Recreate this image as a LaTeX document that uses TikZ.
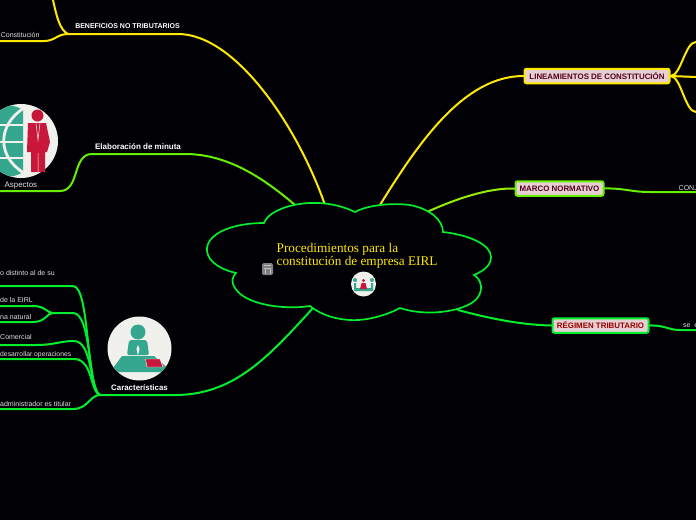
\documentclass[tikz,border=0pt]{standalone}
\usepackage{xcolor}
\usepackage{fontspec}
\setmainfont{Liberation Sans}
\newfontfamily\titlefont{Liberation Serif}
\usetikzlibrary{positioning, calc, backgrounds}

\definecolor{branchyellow}{HTML}{FFE900}
\definecolor{branchlime}{HTML}{66F000}
\definecolor{branchgreen}{HTML}{00EE2C}
\definecolor{boxfill}{HTML}{E6D0D3}
\definecolor{iconteal}{HTML}{35A78F}
\definecolor{iconred}{HTML}{C8173A}
\definecolor{iconpaper}{HTML}{F0F0EC}

\begin{document}
\begin{tikzpicture}[
    x=1pt, y=-1pt,
    link/.style={line width=2pt, line cap=round},
    topic/.style={draw, line width=2pt, rounded corners=2pt, fill=boxfill, inner sep=0pt,
                  minimum height=14.5pt, align=center, font=\bfseries\fontsize{7.9}{8}\selectfont, text=black!45!purple!80!black},
    leaf/.style={font=\fontsize{7}{8}\selectfont, text=white!88!black, inner sep=0pt, anchor=base west},
    branch/.style={font=\bfseries\fontsize{7}{8}\selectfont, text=white, inner sep=0pt},
]
\fill[black!98!blue] (0,0) rectangle (696,520);
\useasboundingbox (0,0) rectangle (696,520);

% topics
\node[topic, draw=branchyellow, minimum width=145pt] (lineamientos) at (597,76) {LINEAMIENTOS DE CONSTITUCIÓN};
\node[topic, draw=branchlime, minimum width=88pt] (marco) at (559.5,188.5) {MARCO NORMATIVO};
\node[topic, draw=branchgreen, minimum width=96pt, text=red!60!black] (regimen) at (600.5,325.5) {RÉGIMEN TRIBUTARIO};

% free ends
\coordinate (hub1) at (68,34);
\coordinate (hub2) at (100,395);
\coordinate (hub3) at (54,313);
\coordinate (cloudA) at (325,205);
\coordinate (cloudB) at (380,205);
\coordinate (cloudC) at (295,205);
\coordinate (cloudD) at (427,212);
\coordinate (cloudE) at (458,310);
\coordinate (cloudF) at (313,308);

% yellow side
\draw[link, branchyellow] (cloudA) .. controls (297,125) and (235,34) .. (178,34) -- (hub1);
\coordinate (endA) at (53,0);
\coordinate (endB) at (0,41);
\draw[link, branchyellow] (hub1) .. controls (60,30) and (57,18) .. (endA);
\draw[link, branchyellow] (hub1) .. controls (57,34) and (55,41) .. (44,41) -- (endB);
\draw[link, branchyellow] (cloudB) .. controls (420,140) and (465,76) .. (lineamientos.west);
\coordinate (endC) at (696,42);
\coordinate (endD) at (696,77);
\coordinate (endE) at (696,112);
\draw[link, branchyellow] (lineamientos.east) .. controls (681,76) and (685,42) .. (endC);
\draw[link, branchyellow] (lineamientos.east) -- (endD);
\draw[link, branchyellow] (lineamientos.east) .. controls (681,76) and (685,112) .. (endE);

% lime side
\coordinate (endF) at (0,191);
\draw[link, branchlime] (cloudC) .. controls (260,175) and (225,154) .. (185,154) -- (92,154)
    .. controls (72,154) and (80,191) .. (60,191) -- (endF);
\coordinate (endG) at (696,192);
\draw[link, branchlime!70!branchyellow] (cloudD) .. controls (460,197) and (490,188) .. (marco.west);
\draw[link, branchlime] (marco.east) .. controls (625,188) and (630,192) .. (650,192) -- (endG);

% green side
\draw[link, branchgreen] (cloudE) .. controls (495,320) and (525,325) .. (regimen.west);
\coordinate (endH) at (696,330);
\draw[link, branchgreen] (regimen.east) .. controls (665,325) and (668,330) .. (680,330) -- (endH);
\draw[link, branchgreen] (cloudF) .. controls (270,355) and (235,395) .. (175,395) -- (hub2);
\coordinate (endI) at (0,286);
\coordinate (endJ) at (0,306);
\coordinate (endK) at (0,322);
\coordinate (endL) at (0,345);
\coordinate (endM) at (0,359);
\coordinate (endN) at (0,409);
\draw[link, branchgreen] (hub2) .. controls (86,388) and (90,286) .. (73,286) -- (endI);
\draw[link, branchgreen] (hub2) .. controls (88,390) and (92,313) .. (73,313) -- (hub3);
\draw[link, branchgreen] (hub3) .. controls (46,313) and (46,306) .. (33,306) -- (endJ);
\draw[link, branchgreen] (hub3) .. controls (46,313) and (46,322) .. (33,322) -- (endK);
\draw[link, branchgreen] (hub2) .. controls (90,392) and (93,341) .. (74,341) .. controls (60,341) and (55,345) .. (35,345) -- (endL);
\draw[link, branchgreen] (hub2) .. controls (90,392) and (93,359) .. (74,359) -- (endM);
\draw[link, branchgreen] (hub2) .. controls (90,395) and (88,409) .. (73,409) -- (endN);

% cloud
\draw[line width=1.7pt, branchgreen, fill=black!98!blue]
    (264,223) .. controls (270,208) and (300,202) .. (317,203)
    .. controls (330,203) and (345,207) .. (355,212)
    .. controls (370,204) and (395,203) .. (410,205)
    .. controls (430,209) and (443,220) .. (443,232)
    .. controls (470,235) and (491,245) .. (491,257)
    .. controls (491,266) and (483,271) .. (474,275)
    .. controls (482,280) and (483,290) .. (478,297)
    .. controls (470,310) and (430,318) .. (400,308)
    .. controls (385,316) and (365,321) .. (350,320)
    .. controls (333,319) and (320,314) .. (310,306)
    .. controls (285,310) and (245,305) .. (235,288)
    .. controls (231,282) and (232,277) .. (236,273)
    .. controls (215,268) and (206,258) .. (207,248)
    .. controls (209,232) and (235,223) .. (264,223) -- cycle;

% title
\node[font=\titlefont\fontsize{13.25}{13}\selectfont, text=branchyellow, align=left, anchor=north west, inner sep=0pt] (titulo) at (276.5,243)
    {Procedimientos para la\\constitución de empresa EIRL};

% small grey note
\node[fill=black!50, rounded corners=1.5pt, minimum width=11pt, minimum height=12pt, inner sep=0pt] (nota) at (267.5,269) {};
\draw[white!75!black, line width=0.8pt] (264,265.5) -- (271,265.5) (264,268.5) -- (271,268.5) (265,268.5) -- (265,274) (270,268.5) -- (270,274);

% title icon
\node[circle, fill=iconpaper, minimum size=25pt, inner sep=0pt] (iconoA) at (363.5,284) {};
\fill[iconteal] (355,280) circle (2pt) (372,280) circle (2pt);
\fill[iconteal] (354,283) rectangle (356,289) (371,283) rectangle (373,289) (354,288) rectangle (373,291);
\fill[iconred] (363.5,280.5) circle (1.7pt);
\fill[iconred] (360,289) -- (361.5,283) -- (365.5,283) -- (367,289) -- cycle;

% Caracteristicas icon
\node[circle, fill=iconpaper, minimum size=64pt, inner sep=0pt] (iconoB) at (139.5,348.5) {};
\begin{scope}
\clip (139.5,348.5) circle (32pt);
\fill[iconteal] (138,332) circle (7.5pt);
\fill[iconteal, rounded corners=2pt] (127,355) -- (129,340) -- (147,340) -- (149,355) -- cycle;
\fill[white] (138,345) -- (139.5,349) -- (138,355) -- (136.5,349) -- cycle;
\fill[iconteal] (122,356) -- (154,356) -- (172,372) -- (110,372) -- cycle;
\fill[iconred] (145.5,359) -- (160,359) -- (163,367) -- (147,367) -- cycle;
\draw[white, line width=0.4pt] (145.5,359) -- (160,359) -- (163,367) -- (147,367) -- cycle;
\end{scope}
\node[branch, font=\bfseries\fontsize{7.9}{8}\selectfont] (caract) at (139.5,387.5) {Características};

% Aspectos icon
\node[circle, fill=iconpaper, minimum size=74pt, inner sep=0pt] (iconoC) at (21,141) {};
\begin{scope}
\clip (21,141) circle (37pt);
\clip (-20,100) rectangle (23,181);
\fill[iconteal] (5,141) circle (36pt);
\draw[iconpaper, line width=2.8pt] (-25,125) -- (25,125) (-25,142) -- (25,142) (-25,158) -- (25,158);
\draw[iconpaper, line width=2.8pt] (24,108) .. controls (-3,125) and (-3,157) .. (24,173);
\end{scope}
\fill[iconred] (37.5,115.5) circle (6pt);
\fill[iconred] (28,123) -- (46,123) -- (50,142) -- (47,152) -- (45,152) -- (45,172) -- (31,172) -- (31,152) -- (27,152) -- cycle;
\draw[iconpaper, line width=0.5pt] (38,153) -- (38,173) (36,123) -- (38,140) -- (40,123);
\node[leaf, font=\fontsize{7.9}{8}\selectfont] (aspectos) at (4.5,187) {Aspectos};

% branch labels
\node[branch] (beneficios) at (127.5,26.5) {BENEFICIOS NO TRIBUTARIOS};
\node[branch, font=\bfseries\fontsize{8}{9}\selectfont] (elaboracion) at (138,146.5) {Elaboración de minuta};

% leaves
\node[leaf] (constitucion) at (0.7,37) {Constitución};
\node[leaf] (distinto) at (0,275) {o distinto al de su};
\node[leaf] (eirl) at (0,302) {de la EIRL};
\node[leaf] (natural) at (0,319) {na natural};
\node[leaf] (comercial) at (0,339) {Comercial};
\node[leaf, font=\fontsize{6.8}{8}\selectfont] (operaciones) at (0,356) {desarrollar operaciones};
\node[leaf] (titular) at (0,406) {administrador es titular};
\node[leaf] (conj) at (678.5,190) {CONJ};
\node[leaf] (se) at (683,327) {se\ \ e};

\end{tikzpicture}
\end{document}
